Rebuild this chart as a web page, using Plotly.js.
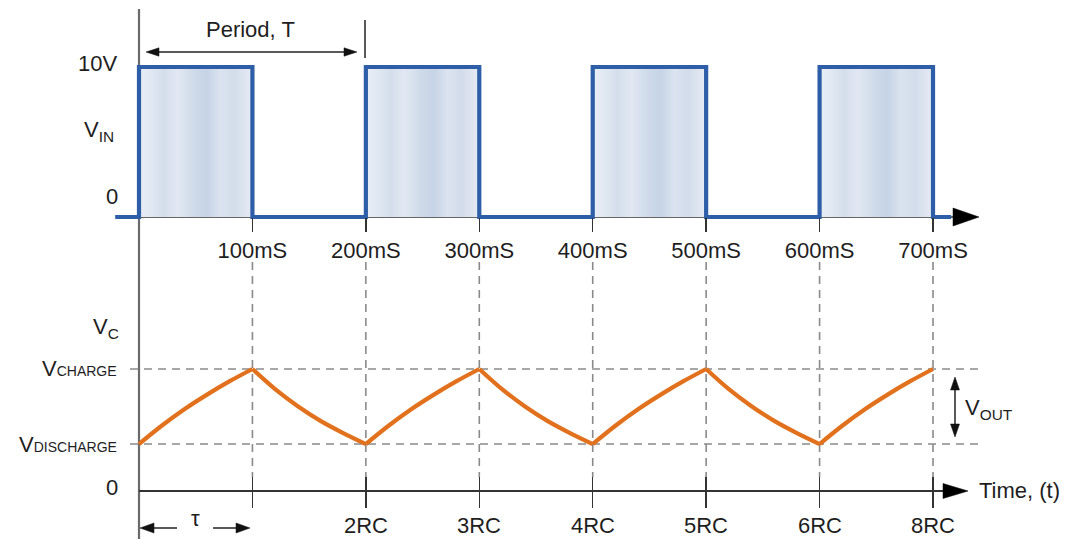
<!DOCTYPE html>
<html><head><meta charset="utf-8">
<script src="https://cdn.plot.ly/plotly-3.0.1.min.js"></script>
<style>html,body{margin:0;padding:0;background:#fff}#chart{width:1071px;height:539px}</style>
</head><body><div id="chart"></div><script>
// ---------- data ----------
const tickTimes = [100, 200, 300, 400, 500, 600, 700];            // ms
const topTickLabels = ['100mS', '200mS', '300mS', '400mS', '500mS', '600mS', '700mS'];
const rcTickTimes = [200, 300, 400, 500, 600, 700];
const rcTickLabels = ['2RC', '3RC', '4RC', '5RC', '6RC', '8RC'];

// input square wave (V) vs time (ms)
const vinTime  = [-21, 0, 0, 100, 100, 200, 200, 300, 300, 400, 400, 500, 500, 600, 600, 700, 700, 716];
const vinVolts = [0, 0, 10, 10, 0, 0, 10, 10, 0, 0, 10, 10, 0, 0, 10, 10, 0, 0];
const pulseStart = [0, 200, 400, 600];
const pulseEnd   = [100, 300, 500, 700];
const pulseHigh  = 10;

// capacitor voltage (relative units) vs time (ms)
const vcTime = [0, 20, 40, 60, 80, 100, 120, 140, 160, 180, 200, 220, 240, 260, 280, 300,
                320, 340, 360, 380, 400, 420, 440, 460, 480, 500, 520, 540, 560, 580, 600,
                620, 640, 660, 680, 700];
const vcValues = [3.85, 5.35, 6.7, 7.9, 9.0, 10.0,
                  8.35, 6.95, 5.75, 4.75, 3.85,
                  5.35, 6.7, 7.9, 9.0, 10.0,
                  8.35, 6.95, 5.75, 4.75, 3.85,
                  5.35, 6.7, 7.9, 9.0, 10.0,
                  8.35, 6.95, 5.75, 4.75, 3.85,
                  5.35, 6.7, 7.9, 9.0, 10.0];
const vCharge = 10.0;
const vDischarge = 3.85;

// ---------- geometry helpers ----------
const W = 1071, H = 539;
const X0 = 139, K = 1.1343;             // px of t=0, px per ms
const xRange = [-X0 / K, (W - X0) / K];
const yTopRange = [-(H - 217) / 15, 217 / 15];
const yBotRange = [-(H - 491) / 12.2, 491 / 12.2];
const fx = p => p / W;
const fy = p => 1 - p / H;

const FONT = 'Liberation Sans, Arial, sans-serif';
const TXT = '#1e1e1e';
const BLUE = '#2d5ea7';
const ORANGE = '#e2711d';
const DASH = '#8a8a8a';

function seg(x0, y0, x1, y1, color, width, layer) {
  return {type: 'line', xref: 'paper', yref: 'paper', x0: fx(x0), y0: fy(y0), x1: fx(x1), y1: fy(y1),
          line: {color: color, width: width}, layer: layer || 'above'};
}
function tri(tx, ty, dx, dy, len, half, color) {
  const bx = tx - dx * len, by = ty - dy * len;
  const px = -dy, py = dx;
  const p1 = [bx + px * half, by + py * half], p2 = [bx - px * half, by - py * half];
  return {type: 'path', xref: 'paper', yref: 'paper',
          path: `M ${fx(tx)},${fy(ty)} L ${fx(p1[0])},${fy(p1[1])} L ${fx(p2[0])},${fy(p2[1])} Z`,
          fillcolor: color, line: {color: color, width: 0.5}};
}

const shapes = [];
// y axis (vertical line)
shapes.push(seg(139, 539, 139, 9, '#6a6a6a', 2.2, 'below'));
// top time axis
shapes.push(seg(139, 217, 956, 217, '#333', 1.5, 'below'));
shapes.push(tri(979, 217, 1, 0, 26, 9, '#000'));
// bottom time axis
shapes.push(seg(139, 491, 946, 491, '#333', 2, 'below'));
shapes.push(tri(968, 491, 1, 0, 25, 7.5, '#000'));
// dashed horizontal reference levels
[vCharge, vDischarge].forEach(v => {
  shapes.push({type: 'line', xref: 'paper', yref: 'y2', x0: fx(130), x1: fx(978), y0: v, y1: v,
               line: {color: DASH, width: 1.6, dash: '8px,6px'}, layer: 'below'});
});
// dashed vertical guides
tickTimes.forEach(t => {
  shapes.push({type: 'line', xref: 'x', yref: 'paper', x0: t, x1: t, y0: fy(262), y1: fy(477),
               line: {color: DASH, width: 1.6, dash: '8px,6px'}, layer: 'below'});
});
// period arrow
shapes.push(seg(152, 52, 350, 52, '#222', 1.5));
shapes.push(tri(146, 52, -1, 0, 13, 4.2, '#111'));
shapes.push(tri(357, 52, 1, 0, 13, 4.2, '#111'));
shapes.push(seg(365, 20, 365, 58, '#222', 1.5));
// tau arrows
shapes.push(seg(150, 528, 177, 528, '#222', 1.5));
shapes.push(tri(140, 528, -1, 0, 14, 5, '#111'));
shapes.push(seg(213, 528, 238, 528, '#222', 1.5));
shapes.push(tri(250, 528, 1, 0, 14, 5, '#111'));
// Vout double arrow
shapes.push(seg(955, 388, 955, 426, '#222', 1.5));
shapes.push(tri(955, 377, 0, -1, 13, 4.5, '#111'));
shapes.push(tri(955, 437, 0, 1, 13, 4.5, '#111'));

// ---------- traces ----------
const stripes = [[0, '#e9eef6'], [0.12, '#dfe7f1'], [0.22, '#d4deeb'], [0.34, '#e1e8f2'],
                 [0.5, '#cdd9e8'], [0.6, '#c6d4e6'], [0.72, '#dbe3ef'], [0.84, '#d2dcea'], [1, '#e7ecf4']];
const traces = [];
pulseStart.forEach((s, i) => {
  const e = pulseEnd[i];
  traces.push({x: [s, s, e, e], y: [0, pulseHigh, pulseHigh, 0], xaxis: 'x', yaxis: 'y',
               type: 'scatter', mode: 'lines', fill: 'toself', line: {width: 0},
               fillcolor: '#d9e2ee',
               fillgradient: {type: 'horizontal', colorscale: stripes},
               hoverinfo: 'skip', showlegend: false});
});
traces.push({x: vinTime, y: vinVolts, xaxis: 'x', yaxis: 'y', type: 'scatter', mode: 'lines',
             line: {color: BLUE, width: 4.2}, hoverinfo: 'skip', showlegend: false});
// capacitor curve: one smooth trace per charge / discharge segment (sharp corners at switch points)
for (let i = 0; i + 5 < vcTime.length; i += 5) {
  traces.push({x: vcTime.slice(i, i + 6), y: vcValues.slice(i, i + 6), xaxis: 'x2', yaxis: 'y2',
               type: 'scatter', mode: 'lines',
               line: {color: ORANGE, width: 4.2, shape: 'spline', smoothing: 1},
               hoverinfo: 'skip', showlegend: false});
}
traces.push({x: [tickTimes[0]], y: [null], xaxis: 'x3', yaxis: 'y2', type: 'scatter', mode: 'markers',
             hoverinfo: 'skip', showlegend: false});

// ---------- annotations ----------
function txt(text, x, y, xanchor, size) {
  return {text: text, xref: 'paper', yref: 'paper', x: fx(x), y: fy(y), xanchor: xanchor, yanchor: 'middle',
          showarrow: false, font: {family: FONT, size: size || 22, color: TXT}};
}
const small = s => `<span style="font-size:14px">${s}</span>`;
const annotations = [
  txt('Period, T', 250, 30, 'center'),
  txt('10V', 119, 64, 'right'),
  txt('V<sub>IN</sub>', 116, 131, 'right'),
  txt('0', 120, 196, 'right'),
  txt('V<sub>C</sub>', 121, 328, 'right'),
  txt('V' + small('CHARGE'), 119, 368, 'right'),
  txt('V' + small('DISCHARGE'), 119, 444, 'right'),
  txt('0', 120, 487, 'right'),
  txt('τ', 195, 518, 'center'),
  txt('Time, (t)', 977, 490, 'left'),
  txt('V<sub>OUT</sub>', 963, 409, 'left')
];
// RC labels under the time axis, placed at the tick times on the data axis
rcTickTimes.forEach((t, i) => {
  annotations.push({text: rcTickLabels[i], xref: 'x2', yref: 'paper', x: t, y: fy(525),
                    xanchor: 'center', yanchor: 'middle', showarrow: false,
                    font: {family: FONT, size: 22, color: TXT}});
});

const tickfont = {family: FONT, size: 22, color: TXT};
const layout = {
  width: W, height: H, margin: {l: 0, r: 0, t: 0, b: 0},
  paper_bgcolor: '#fff', plot_bgcolor: '#fff', showlegend: false,
  xaxis: {domain: [0, 1], range: xRange, anchor: 'free', position: fy(217),
          showgrid: false, zeroline: false, showline: false,
          ticks: 'outside', ticklen: 14, tickwidth: 1.5, tickcolor: '#333',
          tickmode: 'array', tickvals: tickTimes, ticktext: topTickLabels, tickfont: tickfont},
  xaxis2: {overlaying: 'x', domain: [0, 1], range: xRange, anchor: 'free', position: fy(491),
           showgrid: false, zeroline: false, showline: false,
           ticks: 'outside', ticklen: 16, tickwidth: 1.5, tickcolor: '#333',
           tickmode: 'array', tickvals: tickTimes, showticklabels: false},
  xaxis3: {overlaying: 'x', domain: [0, 1], range: xRange, anchor: 'free', position: fy(491),
           showgrid: false, zeroline: false, showline: false,
           ticks: 'inside', ticklen: 14, tickwidth: 1.5, tickcolor: '#333',
           tickmode: 'array', tickvals: tickTimes, showticklabels: false},
  yaxis: {domain: [0, 1], range: yTopRange, visible: false},
  yaxis2: {overlaying: 'y', range: yBotRange, visible: false},
  shapes: shapes,
  annotations: annotations
};
Plotly.newPlot('chart', traces, layout, {staticPlot: true, displayModeBar: false});
</script></body></html>
